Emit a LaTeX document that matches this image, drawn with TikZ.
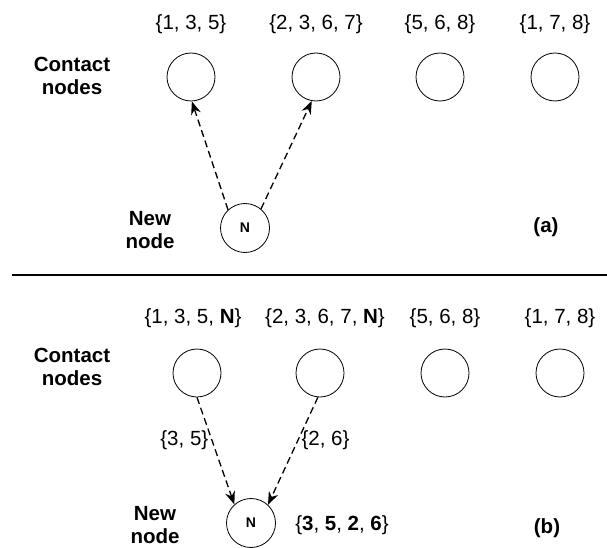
\documentclass[tikz,border=0pt]{standalone}
\usepackage{fontspec}
\setmainfont{Liberation Sans}
\usetikzlibrary{arrows.meta}
\begin{document}
\begin{tikzpicture}[x=1pt,y=-1pt,
  contact/.style={circle,draw,line width=0.8pt,minimum size=48pt,inner sep=0pt},
  newnode/.style={circle,draw,line width=0.8pt,minimum size=49pt,inner sep=0pt,font=\fontsize{14}{16}\selectfont\bfseries},
  setlabel/.style={font=\fontsize{20.5}{23}\selectfont,inner sep=0pt},
  sidelabel/.style={font=\fontsize{20.5}{23.5}\selectfont\bfseries,align=center,inner sep=0pt},
  link/.style={dashed,dash pattern=on 7pt off 4pt,line width=1.3pt,-{Stealth[length=13pt,width=10pt]}}
]
\useasboundingbox (0,0) rectangle (607,548);
% ---- panel (a)
\node[contact] (a1) at (191,77) {};
\node[contact] (a2) at (316,77) {};
\node[contact] (a3) at (440,77) {};
\node[contact] (a4) at (555,77) {};
\node[setlabel] (la1) at (191,24) {\{1, 3, 5\}};
\node[setlabel] (la2) at (316,24) {\{2, 3, 6, 7\}};
\node[setlabel] (la3) at (440,24) {\{5, 6, 8\}};
\node[setlabel] (la4) at (555,24) {\{1, 7, 8\}};
\node[sidelabel] (ca) at (72,76) {Contact\\nodes};
\node[newnode] (na) at (245,228) {N};
\node[sidelabel] (nla) at (150,230) {New\\node};
\node[sidelabel] (tagA) at (546,227) {(a)};
\draw[link] (na.133) -- (a1.-88);
\draw[link] (na.50) -- (a2.-100);
% ---- separator
\coordinate (sepL) at (12,275);
\coordinate (sepR) at (607,275);
\draw[line width=2pt] (sepL) -- (sepR);
% ---- panel (b)
\node[contact] (b1) at (197,373) {};
\node[contact] (b2) at (320,373) {};
\node[contact] (b3) at (445,373) {};
\node[contact] (b4) at (560,373) {};
\node[setlabel] (lb1) at (193,318) {\{1, 3, 5, \textbf{N}\}};
\node[setlabel] (lb2) at (325,318) {\{2, 3, 6, 7, \textbf{N}\}};
\node[setlabel] (lb3) at (445,318) {\{5, 6, 8\}};
\node[setlabel] (lb4) at (560,318) {\{1, 7, 8\}};
\node[sidelabel] (cb) at (72,367) {Contact\\nodes};
\node[newnode] (nb) at (251,523) {N};
\node[sidelabel] (nlb) at (155,525) {New\\node};
\node[sidelabel] (tagB) at (547,528) {(b)};
\node[setlabel] (res) at (342,525) {\{\textbf{3}, \textbf{5}, \textbf{2}, \textbf{6}\}};
\draw[link] (b1.-90) -- (nb.132) node[pos=0.4,left=3pt,setlabel] (e1) {\{3, 5\}};
\draw[link] (b2.-95) -- (nb.47) node[pos=0.4,right=3pt,setlabel] (e2) {\{2, 6\}};
\end{tikzpicture}
\end{document}
